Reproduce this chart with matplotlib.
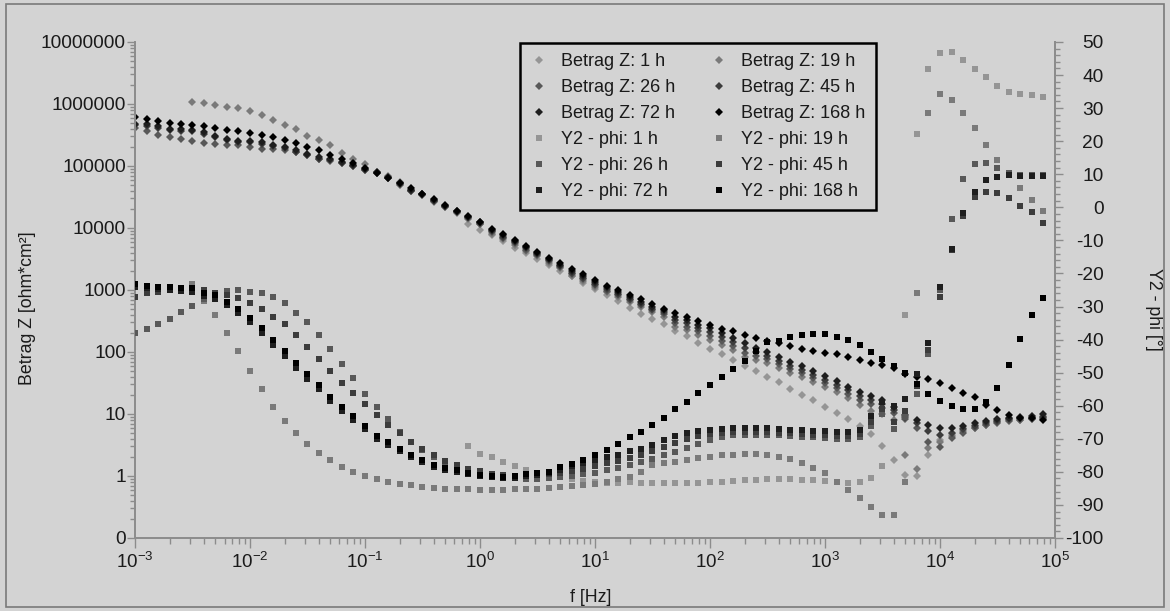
import matplotlib.pyplot as plt
from matplotlib.ticker import (FixedLocator, FixedFormatter, LogLocator,
                               MultipleLocator, NullFormatter)
from matplotlib.patches import Rectangle

plt.rcParams['font.family'] = ['Liberation Sans', 'DejaVu Sans']
plt.rcParams['mathtext.fontset'] = 'custom'
plt.rcParams['mathtext.rm'] = 'Liberation Sans'
plt.rcParams['mathtext.it'] = 'Liberation Sans:italic'
plt.rcParams['mathtext.bf'] = 'Liberation Sans:bold'
plt.rcParams['axes.unicode_minus'] = False

# ---- measurement data: 10 points per decade ----
freq_hz = [0.001, 0.00126, 0.00158, 0.002, 0.00251, 0.00316, 0.00398, 0.00501, 0.00631, 0.00794,
           0.01, 0.0126, 0.0158, 0.02, 0.0251, 0.0316, 0.0398, 0.0501, 0.0631, 0.0794,
           0.1, 0.126, 0.158, 0.2, 0.251, 0.316, 0.398, 0.501, 0.631, 0.794,
           1, 1.26, 1.58, 2, 2.51, 3.16, 3.98, 5.01, 6.31, 7.94,
           10, 12.6, 15.8, 20, 25.1, 31.6, 39.8, 50.1, 63.1, 79.4,
           100, 126, 158, 200, 251, 316, 398, 501, 631, 794,
           1000, 1260, 1580, 2000, 2510, 3160, 3980, 5010, 6310, 7940,
           10000, 12600, 15800, 20000, 25100, 31600, 39800, 50100, 63100, 79400]

# |Z| in ohm*cm2
z_1h = [11700, 9330, 7590, 6170, 4790, 3890, 3160, 2510, 2040, 1660,
        1290, 1020, 832, 676, 513, 417, 339, 282, 219, 182,
        141, 112, 91.2, 74.1, 60.3, 49.0, 38.9, 32.4, 25.1, 20.4,
        17.0, 13.2, 10.5, 8.32, 6.31, 4.79, 3.09, 1.82, 1.05, 1.0,
        2.19, 3.80, 4.79, 5.89, 6.76, 7.41, 7.94, 8.32, 8.51, 8.91, 9.33]
z_19h = [1070000, 1020000, 955000, 891000, 851000,
         759000, 661000, 550000, 457000, 389000, 309000, 263000, 214000, 162000, 129000,
         107000, 81300, 69200, 55000, 41700, 33900, 26300, 21400, 17400, 14100,
         11500, 8130, 6610, 5370, 4270, 3470, 2750, 2240, 1700, 1380,
         1120, 912, 776, 646, 537, 447, 372, 257, 224, 186,
         155, 129, 107, 83.2, 74.1, 66.1, 55.0, 45.7, 39.8, 33.1,
         27.5, 22.9, 17.8, 14.1, 11.2, 10.0, 7.94, 2.19, 1.32, 2.82,
         3.55, 4.47, 5.25, 6.03, 6.76, 7.41, 7.94, 8.13, 8.32, 8.51]
z_26h = [407000, 372000, 316000, 295000, 269000, 257000, 234000, 224000, 216000, 214000,
         200000, 191000, 186000, 178000, 166000, 151000, 132000, 120000, 110000, 100000,
         87100, 77600, 64600, 50100, 38900, 33900, 26900, 21900, 17800, 14500,
         11700, 8510, 6920, 5620, 4470, 3630, 2880, 2340, 1820, 1480,
         1200, 977, 832, 692, 575, 479, 407, 288, 257, 214,
         178, 148, 123, 97.7, 85.1, 75.9, 63.1, 52.5, 45.7, 38.0,
         31.6, 26.3, 20.9, 16.6, 14.5, 12.6, 10.2, 8.32, 5.89, 3.55,
         2.95, 4.07, 4.90, 5.89, 6.61, 7.24, 7.76, 8.13, 8.32, 8.32]
z_45h = [457000, 447000, 417000, 380000, 372000, 363000, 331000, 295000, 263000, 245000,
         240000, 229000, 209000, 195000, 170000, 151000, 132000, 126000, 110000, 100000,
         87100, 75900, 63100, 51300, 39800, 34700, 27500, 22400, 18200, 14800,
         12000, 8910, 7240, 5890, 4680, 3800, 3020, 2450, 1910, 1550,
         1260, 1020, 871, 724, 603, 501, 437, 331, 288, 240,
         209, 174, 145, 117, 100, 87.1, 72.4, 60.3, 51.3, 42.7,
         35.5, 29.5, 24.0, 19.5, 16.6, 14.5, 11.7, 8.91, 7.08, 5.25,
         4.57, 5.01, 5.75, 6.46, 7.08, 7.76, 8.32, 8.51, 8.71, 8.91]
z_72h = [479000, 468000, 437000, 398000, 389000, 380000, 347000, 309000, 275000, 257000,
         251000, 240000, 219000, 204000, 178000, 158000, 138000, 132000, 115000, 105000,
         89100, 79400, 66100, 52500, 40700, 35500, 28200, 22900, 18600, 15100,
         12300, 9330, 7590, 6170, 4900, 3980, 3160, 2570, 2040, 1660,
         1350, 1100, 933, 776, 646, 537, 479, 372, 331, 275,
         240, 200, 166, 138, 115, 100, 83.2, 69.2, 58.9, 49.0,
         40.7, 33.9, 27.5, 22.9, 19.5, 16.6, 13.2, 9.55, 7.94, 6.61,
         5.89, 5.89, 6.31, 7.08, 7.59, 8.32, 8.71, 8.91, 9.12, 10.0]
z_168h = [617000, 575000, 537000, 501000, 479000, 457000, 447000, 407000, 380000, 372000,
          339000, 316000, 288000, 263000, 234000, 204000, 178000, 151000, 129000, 110000,
          91200, 77600, 64600, 53700, 43700, 35500, 28800, 23400, 19100, 15500,
          12600, 9770, 7940, 6460, 5130, 4170, 3310, 2690, 2190, 1780,
          1450, 1170, 1000, 832, 708, 589, 501, 427, 363, 316,
          275, 234, 214, 186, 166, 151, 138, 126, 112, 105,
          95.5, 91.2, 83.2, 74.1, 67.6, 61.7, 55.0, 44.7, 39.8, 36.3,
          31.6, 26.3, 21.4, 18.6, 14.1, 11.7, 9.55, 8.71, 8.51, 7.94]

# phase in degrees
phi_1h = [-72.1,
          -74.6, -75.4, -77.1, -78.2, -79.3, -80.3, -81.0, -81.7, -82.2, -82.7,
          -83.1, -83.5, -83.5, -83.2, -83.3, -83.4, -83.5, -83.5, -83.5, -83.3,
          -83.0, -83.0, -82.8, -82.5, -82.5, -82.2, -82.2, -82.2, -82.5, -82.5,
          -82.8, -83.0, -83.3, -83.0, -81.8, -78.2, -60.0, -32.6, 22.1, 41.8,
          46.6, 46.9, 44.7, 41.8, 39.3, 36.8, 35.0, 34.3, 34.0, 33.5]
phi_19h = [-23.2, -28.3, -32.6, -37.9, -43.4,
           -49.5, -54.9, -60.3, -64.5, -68.2, -71.7, -74.2, -76.4, -78.6, -80.0,
           -81.2, -82.3, -83.0, -83.7, -84.1, -84.5, -84.8, -85.1, -85.1, -85.1,
           -85.4, -85.4, -85.4, -85.1, -85.1, -85.1, -84.8, -84.5, -84.2, -84.0,
           -83.8, -83.0, -82.3, -81.5, -80.1, -77.9, -77.4, -76.9, -76.4, -75.9,
           -75.4, -74.9, -74.9, -74.6, -74.6, -74.9, -75.4, -76.1, -77.4, -78.9,
           -80.4, -83.0, -85.5, -88.0, -90.5, -93.1, -93.1, -83.2, -25.8, 28.6,
           34.3, 32.4, 28.6, 23.9, 18.8, 14.3, 10.2, 5.7, 2.3, -1.0]
phi_26h = [-37.9, -36.9, -35.4, -33.8, -31.6, -29.8, -27.8, -26.3, -25.2, -25.0,
           -25.5, -25.8, -27.2, -29.0, -31.9, -34.8, -38.7, -42.8, -47.3, -51.5,
           -56.4, -60.3, -64.1, -67.8, -70.9, -73.4, -75.6, -77.0, -78.2, -79.2,
           -80.0, -80.8, -81.5, -82.0, -82.2, -82.2, -82.0, -81.7, -81.3, -80.8,
           -80.2, -79.5, -78.8, -78.0, -77.0, -76.0, -75.0, -74.0, -72.8, -71.5,
           -70.3, -69.5, -69.0, -68.8, -68.8, -68.9, -69.0, -69.2, -69.4, -69.6,
           -69.8, -70.0, -70.0, -69.5, -66.0, -62.5, -67.0, -63.5, -56.5, -44.5,
           -25.0, -3.5, 8.5, 13.1, 13.5, 11.8, 10.3, 9.8, 9.8, 9.8]
phi_45h = [-27.0, -26.0, -25.5, -25.0, -24.6, -24.5, -25.0, -25.8, -26.5, -27.5,
           -29.0, -30.8, -33.1, -35.4, -38.6, -42.3, -46.0, -49.5, -53.0, -56.3,
           -59.6, -62.8, -65.8, -68.3, -70.9, -73.0, -75.0, -76.8, -78.0, -79.0,
           -79.8, -80.5, -81.0, -81.2, -81.2, -81.0, -80.7, -80.2, -79.6, -79.0,
           -78.3, -77.4, -76.6, -75.7, -74.8, -73.6, -72.4, -71.3, -70.2, -69.2,
           -68.5, -68.2, -68.0, -67.9, -67.9, -68.0, -68.2, -68.4, -68.6, -68.8,
           -69.0, -69.2, -69.2, -68.6, -65.0, -61.0, -65.0, -61.5, -54.0, -43.0,
           -27.0, -13.0, -2.5, 3.2, 4.7, 4.4, 2.7, 0.5, -1.5, -4.6]
phi_72h = [-24.0, -24.5, -24.8, -25.0, -25.2, -25.5, -26.8, -27.8, -29.5, -32.0,
           -34.8, -38.0, -41.5, -45.0, -48.5, -52.0, -55.0, -58.5, -61.5, -64.2,
           -67.0, -70.0, -71.8, -73.8, -75.5, -77.0, -78.4, -79.4, -80.0, -80.8,
           -81.3, -81.7, -81.9, -81.8, -81.4, -81.0, -80.2, -79.3, -78.3, -77.2,
           -76.5, -75.5, -74.8, -73.8, -73.0, -71.8, -70.5, -69.3, -68.3, -67.5,
           -67.3, -67.0, -66.8, -66.7, -66.7, -66.8, -67.0, -67.2, -67.4, -67.6,
           -67.7, -67.9, -67.9, -67.3, -63.0, -59.0, -60.0, -58.0, -50.5, -41.0,
           -24.0, -12.7, -1.8, 4.7, 8.3, 9.3, 9.8, 9.5, 9.5, 9.5]
phi_168h = [-23.2, -23.7, -24.0, -24.0, -24.3, -24.5, -25.8, -26.5, -28.5, -30.8,
            -33.4, -36.4, -40.1, -43.4, -47.2, -50.5, -53.7, -57.3, -60.3, -63.1,
            -66.0, -69.1, -70.9, -73.1, -74.9, -76.5, -77.9, -78.9, -79.4, -80.3,
            -80.9, -81.3, -81.5, -81.3, -80.7, -80.4, -79.9, -78.6, -77.6, -76.3,
            -74.9, -73.5, -71.7, -69.5, -67.9, -65.7, -63.8, -61.0, -58.8, -56.3,
            -53.8, -51.3, -48.9, -46.4, -43.6, -40.8, -40.4, -39.2, -38.6, -38.3,
            -38.3, -39.1, -40.1, -41.7, -43.7, -45.9, -48.1, -50.0, -53.5, -56.5,
            -58.5, -60.0, -61.0, -61.0, -58.8, -54.6, -47.7, -39.8, -32.6, -27.5]

labels_h = ['1 h', '19 h', '26 h', '45 h', '72 h', '168 h']
colors = ['#959595', '#7a7a7a', '#585858', '#3c3c3c', '#1e1e1e', '#000000']
z_series = [z_1h, z_19h, z_26h, z_45h, z_72h, z_168h]
phi_series = [phi_1h, phi_19h, phi_26h, phi_45h, phi_72h, phi_168h]

bg = '#d3d3d3'
axis_grey = '#8c8c8c'
text_col = '#1a1a1a'

fig = plt.figure(figsize=(11.7, 6.11), dpi=100, facecolor=bg)
ax = fig.add_axes([0.1154, 0.1195, 0.7863, 0.8118])
ax.set_facecolor(bg)
ax2 = ax.twinx()

handles_z = []
for lab, col, z in zip(labels_h, colors, z_series):
    f = freq_hz[len(freq_hz) - len(z):]
    h, = ax.plot(f, z, linestyle='none', marker='D', ms=4.0, mew=0,
                 color=col, label='Betrag Z: ' + lab)
    handles_z.append(h)

handles_p = []
for lab, col, p in zip(labels_h, colors, phi_series):
    f = freq_hz[len(freq_hz) - len(p):]
    h, = ax2.plot(f, p, linestyle='none', marker='s', ms=4.8, mew=0,
                  color=col, label='Y2 - phi: ' + lab)
    handles_p.append(h)

# x axis
ax.set_xscale('log')
ax.set_xlim(1e-3, 1e5)
ax.xaxis.set_major_locator(LogLocator(base=10, numticks=20))
ax.xaxis.set_minor_locator(LogLocator(base=10, subs=range(2, 10), numticks=20))
ax.xaxis.set_minor_formatter(NullFormatter())

# left axis, |Z|
ax.set_yscale('log')
ax.set_ylim(0.1, 1e7)
y_ticks = [0.1, 1, 10, 100, 1000, 1e4, 1e5, 1e6, 1e7]
y_labels = ['0', '1', '10', '100', '1000', '10000', '100000', '1000000', '10000000']
ax.yaxis.set_major_locator(FixedLocator(y_ticks))
ax.yaxis.set_major_formatter(FixedFormatter(y_labels))
ax.yaxis.set_minor_locator(LogLocator(base=10, subs=range(2, 10), numticks=20))
ax.yaxis.set_minor_formatter(NullFormatter())

# right axis, phase
ax2.set_ylim(-100, 50)
ax2.yaxis.set_major_locator(MultipleLocator(10))
ax2.yaxis.set_minor_locator(MultipleLocator(2))

for a in (ax, ax2):
    a.spines['top'].set_visible(False)
    for s in a.spines.values():
        s.set_color(axis_grey)
        s.set_linewidth(1.4)
ax2.spines['left'].set_visible(False)
ax2.spines['bottom'].set_visible(False)

ax.tick_params(axis='x', which='major', direction='out', length=7, width=1,
               color=axis_grey, labelsize=13.6, labelcolor=text_col, pad=3)
ax.tick_params(axis='x', which='minor', direction='out', length=4.5, width=1,
               color=axis_grey)
ax.tick_params(axis='y', which='major', direction='out', length=6, width=1,
               color=axis_grey, labelsize=13.8, labelcolor=text_col, pad=0.5)
ax.tick_params(axis='y', which='minor', direction='out', length=3.5, width=1,
               color=axis_grey)
ax2.tick_params(axis='y', which='major', direction='out', length=6, width=1,
                color=axis_grey, labelsize=13.8, labelcolor=text_col, pad=29)
ax2.tick_params(axis='y', which='minor', direction='out', length=3.5, width=1,
                color=axis_grey)
for t in ax2.get_yticklabels():
    t.set_horizontalalignment('right')

ax.set_xlabel('f [Hz]', fontsize=12.8, color=text_col)
ax.xaxis.set_label_coords(0.495, -0.102)
ax.set_ylabel('Betrag Z [ohm*cm²]', fontsize=12.8, color=text_col)
ax.yaxis.set_label_coords(-0.108, 0.464)
ax2.set_ylabel('Y2 - phi [°]', fontsize=12.8, color=text_col, rotation=270,
               va='center')
ax2.yaxis.set_label_coords(1.107, 0.46)

# legend: row-wise order in two columns
order = [handles_z[0], handles_z[2], handles_z[4], handles_p[0], handles_p[2], handles_p[4],
         handles_z[1], handles_z[3], handles_z[5], handles_p[1], handles_p[3], handles_p[5]]
leg = ax2.legend(handles=order, labels=[h.get_label() for h in order], ncol=2,
                 loc='upper left', bbox_to_anchor=(520 / 1170, 1 - 43 / 611),
                 bbox_transform=fig.transFigure, borderaxespad=0,
                 fontsize=13, frameon=True, fancybox=False, facecolor=bg,
                 edgecolor='black', framealpha=1, handlelength=1.0,
                 handletextpad=0.72, columnspacing=1.95, labelspacing=0.5,
                 borderpad=0.55)
leg.get_frame().set_linewidth(1.8)
for t in leg.get_texts():
    t.set_color(text_col)

# outer frame around the whole picture
fig.patches.append(Rectangle((6 / 1170, 4 / 611), 1158 / 1170, 603 / 611,
                             transform=fig.transFigure, fill=False,
                             edgecolor='#7a7a7a', linewidth=1.2))

fig.savefig('out.png', dpi=100, facecolor=bg)
